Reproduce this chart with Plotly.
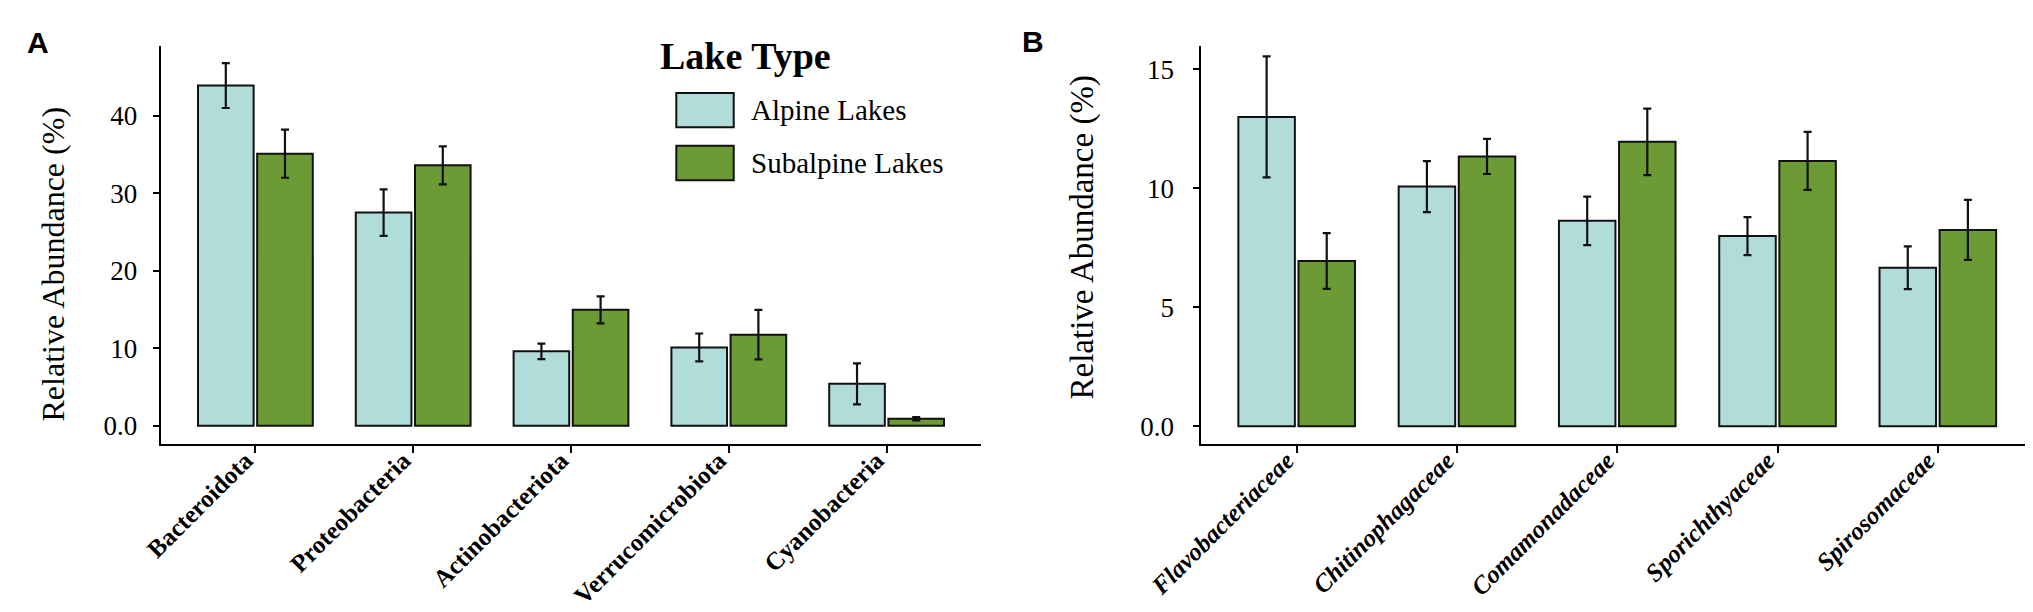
import plotly.graph_objects as go

W, H = 2033, 612

# ---------------- data ----------------
phyla = ["Bacteroidota", "Proteobacteria", "Actinobacteriota", "Verrucomicrobiota", "Cyanobacteria"]
alpine_phyla = [43.9, 27.5, 9.6, 10.1, 5.4]
alpine_phyla_err = [2.9, 3.0, 1.0, 1.8, 2.65]
sub_phyla = [35.1, 33.6, 14.95, 11.75, 0.9]
sub_phyla_err = [3.1, 2.45, 1.75, 3.2, 0.2]

families = ["Flavobacteriaceae", "Chitinophagaceae", "Comamonadaceae", "Sporichthyaceae", "Spirosomaceae"]
alpine_fam = [13.0, 10.07, 8.63, 7.99, 6.66]
alpine_fam_err = [2.54, 1.07, 1.02, 0.8, 0.9]
sub_fam = [6.94, 11.34, 11.95, 11.15, 8.25]
sub_fam_err = [1.17, 0.74, 1.4, 1.22, 1.26]

groups = ["Alpine Lakes", "Subalpine Lakes"]
colors = ["#B0DCD9", "#6C9A34"]

yticks_a = [0, 10, 20, 30, 40]
yticktext_a = ["0.0", "10", "20", "30", "40"]
yticks_b = [0, 5, 10, 15]
yticktext_b = ["0.0", "5", "10", "15"]

ytitle = "Relative Abundance (%)"
legend_title = "Lake Type"

# ---------------- helpers ----------------
def px(x):
    return x / W

def py(y):
    return 1 - y / H

SERIF = "Liberation Serif"
SANS = "Liberation Sans"

fig = go.Figure()

def add_bars(cats, vals, errs, color, name, xa, ya):
    fig.add_trace(go.Bar(
        x=cats, y=vals, name=name, xaxis=xa, yaxis=ya,
        marker=dict(color=color, line=dict(color="#111111", width=2)),
        error_y=dict(type="data", array=errs, visible=True, color="#111111",
                     thickness=2.2, width=4),
        showlegend=False,
    ))

add_bars(phyla, alpine_phyla, alpine_phyla_err, colors[0], groups[0], "x", "y")
add_bars(phyla, sub_phyla, sub_phyla_err, colors[1], groups[1], "x", "y")
add_bars(families, alpine_fam, alpine_fam_err, colors[0], groups[0], "x2", "y2")
add_bars(families, sub_fam, sub_fam_err, colors[1], groups[1], "x2", "y2")

ydom = [py(436), py(38)]

common_x = dict(
    type="category", range=[-0.6, 4.6], showline=True, linecolor="black", linewidth=2,
    ticks="outside", ticklen=7, tickwidth=2, tickcolor="black", tickangle=-45,
    ticklabelshift=-10, ticklabelstandoff=-17,
    showgrid=False, zeroline=False, automargin=False,
)
common_y = dict(
    showline=True, linecolor="black", linewidth=2,
    ticks="outside", ticklen=6, tickwidth=2, tickcolor="black",
    showgrid=False, zeroline=False, tickmode="array", automargin=False,
    tickfont=dict(family=SERIF, size=27, color="black"),
)

fig.update_layout(
    width=W, height=H,
    margin=dict(l=0, r=0, t=0, b=0, pad=0),
    paper_bgcolor="white", plot_bgcolor="white",
    barmode="group", bargap=0.25, bargroupgap=0.06,
    showlegend=False,
    xaxis=dict(domain=[px(152.7), px(973.3)], anchor="y",
               tickfont=dict(family=SERIF, size=25, color="black", weight="bold"),
               **common_x),
    yaxis=dict(domain=ydom, anchor="x", range=[-2.36, 49.0],
               tickvals=yticks_a, ticktext=yticktext_a, ticklabelstandoff=10,
               **common_y),
    xaxis2=dict(domain=[px(1192.5), px(2026)], anchor="y2",
                tickfont=dict(family=SERIF, size=25, color="black", weight="bold", style="italic"),
                **common_x),
    yaxis2=dict(domain=ydom, anchor="x2", range=[-0.75, 15.98],
                tickvals=yticks_b, ticktext=yticktext_b, ticklabelstandoff=13,
                **common_y),
)

annotations = []
# y-axis titles
annotations.append(dict(text=ytitle, x=px(44), y=py(256.5), xref="paper", yref="paper",
                        textangle=-90, showarrow=False, xanchor="center", yanchor="middle",
                        font=dict(family=SERIF, size=32, color="black")))
annotations.append(dict(text=ytitle, x=px(1074), y=py(229.5), xref="paper", yref="paper",
                        textangle=-90, showarrow=False, xanchor="center", yanchor="middle",
                        font=dict(family=SERIF, size=33, color="black")))
# panel letters
annotations.append(dict(text="<b>A</b>", x=px(17), y=py(34.5), xref="paper", yref="paper",
                        showarrow=False, xanchor="left", yanchor="middle",
                        font=dict(family=SANS, size=30, color="black")))
annotations.append(dict(text="<b>B</b>", x=px(1012), y=py(33.5), xref="paper", yref="paper",
                        showarrow=False, xanchor="left", yanchor="middle",
                        font=dict(family=SANS, size=30, color="black")))
# legend (drawn manually to match the large key boxes)
annotations.append(dict(text="<b>" + legend_title + "</b>", x=px(650), y=py(48), xref="paper", yref="paper",
                        showarrow=False, xanchor="left", yanchor="middle",
                        font=dict(family=SERIF, size=38, color="black")))
shapes = []
key_y = [(85, 119.3), (137.7, 172.3)]
for g, c, (y0, y1) in zip(groups, colors, key_y):
    shapes.append(dict(type="rect", xref="paper", yref="paper",
                       x0=px(668.3), x1=px(725.7), y0=py(y1), y1=py(y0),
                       fillcolor=c, line=dict(color="#111111", width=2)))
    annotations.append(dict(text=g, x=px(741), y=py((y0 + y1) / 2), xref="paper", yref="paper",
                            showarrow=False, xanchor="left", yanchor="middle",
                            font=dict(family=SERIF, size=29, color="black")))

fig.update_layout(annotations=annotations, shapes=shapes)

fig.write_html("out.html")
